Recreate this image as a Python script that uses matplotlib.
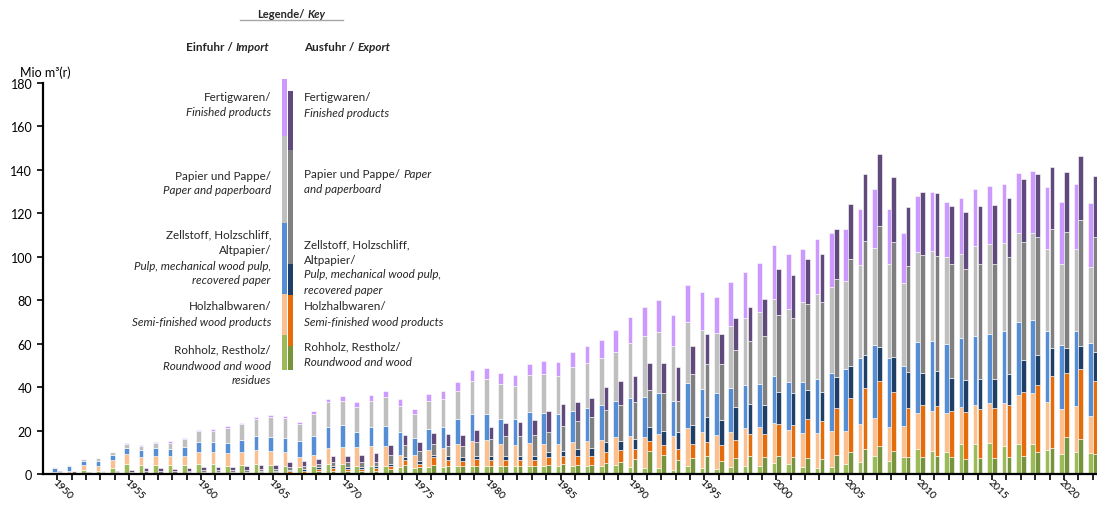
import numpy as np
import matplotlib
matplotlib.use('Agg')
import matplotlib.pyplot as plt

plt.rcParams['font.family'] = ['Lato', 'DejaVu Sans']

years = np.arange(1950, 2023)

# Einfuhr / Import, Mio m3(r)
imp_rohholz = [0.3, 0.6, 2.0, 1.2, 2.8, 4.5, 4.0, 4.0, 4.0, 4.0,
               4.5, 4.5, 3.5, 4.0, 4.5, 4.0, 3.5, 3.0, 3.5, 4.6,
               4.6, 3.8, 3.8, 3.8, 3.1, 2.6, 3.4, 3.4, 3.8, 3.8,
               3.8, 3.8, 3.8, 3.8, 3.8, 3.8, 3.8, 3.8, 3.8, 4.1,
               3.1, 2.6, 2.8, 1.8, 3.5, 2.8, 2.3, 3.1, 3.5, 3.8,
               4.9, 4.6, 3.4, 2.9, 3.4, 4.6, 5.7, 8.4, 6.1, 8.0,
               11.3, 10.7, 10.3, 13.7, 13.8, 14.1, 13.0, 13.7, 13.7, 11.0,
               9.2, 10.3, 9.5]
imp_halbwaren = [0.8, 1.0, 2.3, 2.5, 3.5, 4.5, 4.0, 4.5, 4.5, 4.5,
                 5.5, 5.5, 6.0, 6.0, 6.5, 6.5, 6.5, 5.0, 5.2, 7.2,
                 8.0, 8.5, 8.9, 9.2, 5.6, 6.1, 7.8, 8.4, 10.0, 11.5,
                 11.8, 10.0, 9.7, 10.3, 10.0, 10.0, 10.8, 11.2, 11.8, 12.8,
                 14.2, 14.6, 15.6, 15.8, 17.7, 16.4, 15.7, 16.4, 17.7, 18.0,
                 18.6, 15.6, 15.3, 15.8, 16.4, 15.3, 17.3, 17.5, 15.4, 14.1,
                 16.9, 18.3, 17.6, 17.3, 17.9, 18.7, 19.8, 22.5, 23.7, 22.3,
                 20.6, 21.1, 17.2]
imp_zellstoff = [1.8, 2.0, 1.8, 2.3, 2.5, 3.0, 3.0, 3.5, 3.0, 3.8,
                 4.8, 4.7, 5.0, 5.5, 6.5, 6.5, 6.5, 7.0, 8.6, 9.7,
                 9.9, 6.9, 8.8, 8.9, 10.5, 7.7, 9.5, 9.7, 11.5, 12.3,
                 12.0, 11.5, 11.8, 14.3, 14.1, 13.8, 14.5, 15.4, 16.1, 16.8,
                 17.5, 18.2, 18.7, 16.1, 20.5, 19.9, 19.1, 20.1, 19.8, 19.8,
                 21.4, 22.0, 23.5, 25.2, 26.8, 28.6, 30.2, 33.3, 32.0, 27.6,
                 32.4, 32.3, 31.9, 31.4, 31.8, 31.5, 33.0, 33.7, 33.3, 32.5,
                 29.6, 34.4, 33.4]
imp_papier = [0.4, 0.6, 0.7, 1.3, 1.4, 1.8, 2.0, 2.3, 3.0, 4.0,
              5.0, 5.3, 6.8, 7.3, 8.0, 9.3, 9.2, 7.8, 10.3, 11.5,
              11.2, 11.5, 12.2, 13.4, 12.2, 11.1, 13.0, 13.0, 13.0, 15.3,
              16.1, 16.1, 15.3, 17.2, 18.1, 17.6, 20.0, 20.6, 21.5, 22.6,
              25.5, 27.9, 28.1, 25.3, 28.1, 27.2, 27.6, 28.7, 30.6, 32.8,
              35.6, 33.7, 36.8, 38.8, 39.6, 40.3, 42.8, 44.9, 43.1, 38.0,
              41.4, 41.5, 39.9, 39.1, 41.4, 41.8, 40.6, 41.1, 40.3, 38.0,
              37.1, 37.7, 35.0]
imp_fertig = [0.1, 0.1, 0.1, 0.1, 0.1, 0.3, 0.3, 0.3, 0.5, 0.4,
              0.4, 0.7, 0.8, 0.8, 0.9, 1.0, 1.0, 1.3, 1.5, 1.5,
              2.0, 2.3, 2.6, 2.7, 3.1, 2.4, 3.1, 3.7, 3.9, 5.0,
              5.1, 5.1, 4.9, 5.0, 6.1, 6.5, 6.9, 7.7, 8.6, 10.0,
              11.8, 13.8, 15.0, 14.3, 17.3, 17.3, 17.0, 19.9, 21.2, 22.7,
              25.0, 25.3, 24.4, 25.3, 24.8, 24.1, 25.8, 27.0, 25.2, 23.3,
              26.0, 26.8, 25.6, 25.6, 26.2, 26.4, 27.3, 27.5, 28.6, 28.4,
              28.5, 30.2, 29.7]

# Ausfuhr / Export, Mio m3(r)
exp_rohholz = [0.2, 0.3, 0.1, 0.1, 0.2, 0.2, 0.2, 0.2, 0.2, 0.2,
               0.3, 0.3, 0.3, 0.3, 0.3, 0.3, 0.5, 0.6, 1.4, 1.5,
               1.4, 1.4, 1.5, 2.3, 4.1, 3.1, 4.1, 3.8, 3.5, 3.8,
               3.8, 3.8, 3.5, 3.8, 4.1, 4.6, 4.1, 4.1, 5.1, 5.7,
               6.9, 10.7, 8.9, 6.6, 7.4, 8.4, 5.8, 7.4, 8.4, 8.0,
               8.4, 7.7, 7.5, 6.9, 8.7, 10.0, 11.3, 13.0, 10.7, 8.0,
               8.0, 8.3, 7.7, 6.9, 7.2, 7.5, 7.7, 8.4, 10.3, 12.0,
               17.0, 16.0, 9.0]
exp_halbwaren = [0.5, 0.2, 0.1, 0.7, 0.2, 0.2, 0.2, 0.2, 0.2, 0.3,
                 0.3, 0.3, 0.3, 0.5, 0.7, 0.7, 1.0, 1.0, 0.9, 1.1,
                 0.9, 0.9, 1.1, 1.2, 2.3, 1.5, 3.6, 2.8, 2.6, 3.1,
                 2.8, 2.6, 2.9, 2.6, 3.6, 3.8, 4.3, 4.3, 4.9, 5.3,
                 4.6, 4.6, 4.4, 4.9, 6.4, 6.5, 7.5, 8.2, 10.0, 10.4,
                 14.6, 14.8, 17.7, 17.6, 21.8, 24.8, 28.1, 29.8, 27.0, 22.2,
                 23.6, 23.1, 21.4, 21.8, 22.7, 22.7, 24.0, 29.3, 30.5, 33.1,
                 29.6, 32.5, 34.0]
exp_zellstoff = [0.1, 0.1, 0.1, 0.1, 0.1, 0.1, 0.2, 0.2, 0.2, 0.2,
                 0.2, 0.2, 0.2, 0.2, 0.3, 0.3, 0.4, 0.5, 0.8, 0.9,
                 0.8, 0.8, 0.9, 1.1, 1.3, 1.5, 1.0, 1.5, 1.6, 1.5,
                 1.8, 2.0, 2.0, 1.7, 2.3, 2.3, 3.1, 3.4, 4.6, 4.3,
                 4.6, 6.5, 6.6, 7.7, 8.7, 11.2, 11.5, 15.1, 13.8, 13.3,
                 14.9, 14.9, 13.5, 13.2, 14.0, 14.9, 15.4, 15.8, 16.3, 16.9,
                 14.7, 16.1, 14.9, 14.6, 14.0, 13.7, 14.3, 14.8, 13.8, 12.9,
                 11.4, 10.5, 13.0]
exp_papier = [0.3, 0.6, 0.3, 0.3, 0.5, 0.6, 0.8, 0.9, 0.8, 0.8,
              0.9, 1.0, 1.0, 1.0, 1.2, 1.0, 1.3, 1.5, 1.5, 1.9,
              2.3, 2.3, 2.2, 4.1, 5.6, 4.6, 5.1, 4.9, 5.0, 6.2,
              7.7, 8.9, 8.9, 9.8, 9.2, 11.5, 13.0, 14.6, 15.0, 16.4,
              16.9, 16.9, 17.2, 14.5, 23.5, 24.5, 25.8, 26.5, 29.1, 31.6,
              35.3, 34.5, 39.5, 41.6, 45.5, 49.5, 52.6, 55.5, 52.9, 48.6,
              54.5, 52.8, 52.6, 51.3, 52.7, 52.7, 53.7, 54.4, 54.3, 55.0,
              53.3, 57.9, 53.0]
exp_fertig = [0.1, 0.1, 0.2, 0.1, 0.5, 0.7, 1.2, 1.1, 1.1, 1.2,
              1.3, 1.4, 1.5, 1.6, 1.6, 1.8, 2.3, 2.6, 2.3, 2.7,
              3.0, 3.3, 3.8, 4.6, 4.6, 4.2, 4.9, 5.4, 5.2, 5.6,
              5.7, 6.2, 6.5, 6.9, 9.8, 10.0, 8.5, 8.7, 10.3, 11.1,
              11.9, 12.4, 13.8, 15.4, 13.0, 14.0, 13.7, 14.4, 15.8, 17.2,
              21.4, 19.8, 21.0, 21.8, 22.6, 25.3, 30.5, 33.4, 29.6, 27.3,
              29.1, 29.1, 26.7, 26.1, 26.7, 27.2, 27.4, 28.7, 29.4, 28.1,
              27.5, 29.4, 28.0]

imp_series = [imp_rohholz, imp_halbwaren, imp_zellstoff, imp_papier, imp_fertig]
exp_series = [exp_rohholz, exp_halbwaren, exp_zellstoff, exp_papier, exp_fertig]
imp_colors = ['#9BBB59', '#FAC090', '#558ED5', '#BFBFBF', '#CC99FF']
exp_colors = ['#77933C', '#E46C0A', '#1F3F66', '#808080', '#604A7B']

# legend key bars: segment lengths (bottom to top), in legend units
key_imp = [35, 41, 71, 87, 57]
key_exp = [24, 51, 31, 114, 59]

fig = plt.figure(figsize=(10.97, 5.06), dpi=100)
ax = fig.add_axes([42.7 / 1097, 31 / 506, 1 - 42.7 / 1097, 391 / 506])

w = 0.32
off = 0.17
bottom = np.zeros(len(years))
for vals, c in zip(imp_series, imp_colors):
    ax.bar(years - off, vals, w, bottom=bottom, color=c, edgecolor='white', linewidth=0.4)
    bottom += np.array(vals)
bottom = np.zeros(len(years))
for vals, c in zip(exp_series, exp_colors):
    ax.bar(years + off, vals, w, bottom=bottom, color=c, edgecolor='white', linewidth=0.4)
    bottom += np.array(vals)

ax.set_xlim(1948.99, 2022.3)
ax.set_ylim(0, 180)
ax.set_yticks(np.arange(0, 181, 20))
ax.set_xticks(np.arange(1950, 2023, 5))
ax.set_xticks(years, minor=True)
ax.tick_params(axis='both', which='both', direction='out', length=4, width=1.2, labelsize=9)
ax.tick_params(axis='x', which='major', pad=-2, labelsize=7.5)
for lbl in ax.get_xticklabels():
    lbl.set_rotation(-45)
    lbl.set_ha('left')
    lbl.set_va('top')
    lbl.set_rotation_mode('anchor')
for s in ['top', 'right']:
    ax.spines[s].set_visible(False)
for s in ['left', 'bottom']:
    ax.spines[s].set_linewidth(1.6)

fig.text(20 / 1097, 1 - 73 / 506, 'Mio m³(r)', fontsize=9, va='center', ha='left')

# legend overlay in pixel coordinates
lax = fig.add_axes([0, 0, 1, 1])
lax.set_xlim(0, 1097)
lax.set_ylim(506, 0)
lax.axis('off')

b = 371
for seg, c in zip(key_imp, imp_colors):
    lax.bar(284.2, -seg, 5.0, bottom=b, color=c, linewidth=0)
    b -= seg
b = 371
for seg, c in zip(key_exp, exp_colors):
    lax.bar(290.8, -seg, 5.0, bottom=b, color=c, linewidth=0)
    b -= seg

renderer = fig.canvas.get_renderer()
txtcol = '#262626'


def rich(x, y, parts, ha='left', size=8.4):
    items = []
    for s, style, weight in parts:
        t = lax.text(0, y, s, fontsize=size, style=style, weight=weight,
                     va='center', ha='left', color=txtcol)
        items.append((t, t.get_window_extent(renderer).width))
    gap = 3.0
    total = sum(wd for _, wd in items) + gap * (len(items) - 1)
    if ha == 'right':
        x0 = x - total
    elif ha == 'center':
        x0 = x - total / 2
    else:
        x0 = x
    for t, wd in items:
        t.set_x(x0)
        x0 += wd + gap


N, I = 'normal', 'italic'
rich(291, 14, [('Legende/', N, 'bold'), ('Key', I, 'bold')], ha='center', size=8)
lax.plot([240, 343], [21, 21], color='#A6A6A6', lw=1)
rich(269, 47, [('Einfuhr /', N, 'bold'), ('Import', I, 'bold')], ha='right', size=8.5)
rich(304, 47, [('Ausfuhr /', N, 'bold'), ('Export', I, 'bold')], ha='left', size=8.5)

imp_lines = [(97, 'Fertigwaren/', N), (112, 'Finished products', I),
             (176, 'Papier und Pappe/', N), (190, 'Paper and paperboard', I),
             (235, 'Zellstoff, Holzschliff,', N), (250, 'Altpapier/', N),
             (266, 'Pulp, mechanical wood pulp,', I), (281, 'recovered paper', I),
             (307, 'Holzhalbwaren/', N), (322, 'Semi-finished wood products', I),
             (350, 'Rohholz, Restholz/', N), (366, 'Roundwood and wood', I),
             (381, 'residues', I)]
for y, s, st in imp_lines:
    rich(271, y, [(s, st, 'normal')], ha='right')

exp_lines = [(97, 'Fertigwaren/', N), (113, 'Finished products', I),
             (189, 'and paperboard', I),
             (245, 'Zellstoff, Holzschliff,', N), (260, 'Altpapier/', N),
             (275, 'Pulp, mechanical wood pulp,', I), (290, 'recovered paper', I),
             (307, 'Holzhalbwaren/', N), (322, 'Semi-finished wood products', I),
             (347, 'Rohholz, Restholz/', N), (363, 'Roundwood and wood', I)]
for y, s, st in exp_lines:
    rich(304, y, [(s, st, 'normal')])
rich(304, 174, [('Papier und Pappe/', N, 'normal'), ('Paper', I, 'normal')])

fig.savefig('out.png', dpi=100)
